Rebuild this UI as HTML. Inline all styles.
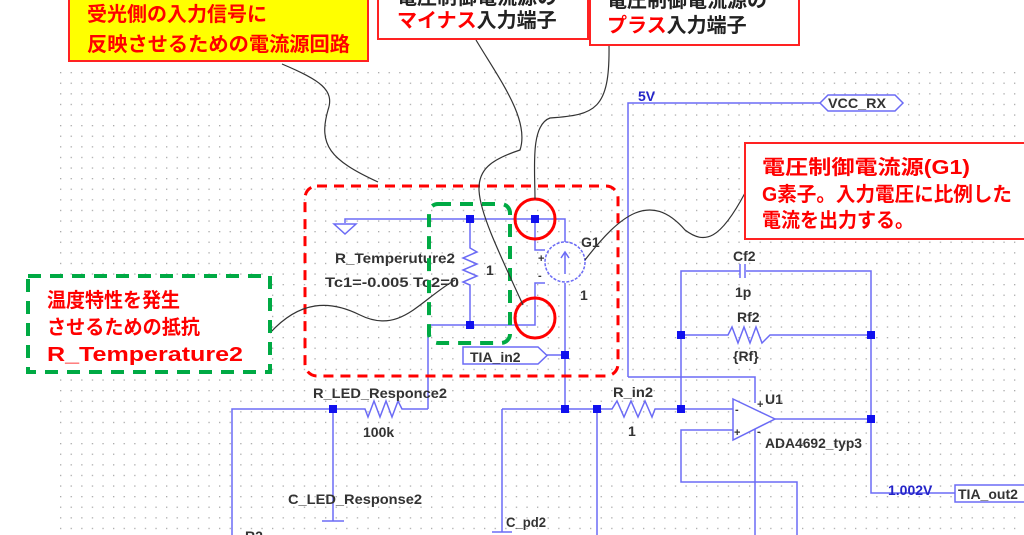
<!DOCTYPE html>
<html><head><meta charset="utf-8"><style>
html,body{margin:0;padding:0;background:#fff;}
svg{display:block;}
.l{font-family:"Liberation Sans",sans-serif;font-weight:bold;font-size:14px;fill:#333;}
.j{font-family:"Liberation Sans","Noto Sans CJK JP",sans-serif;font-weight:bold;font-size:20px;}
</style></head><body>
<svg width="1024" height="535" viewBox="0 0 1024 535" xmlns="http://www.w3.org/2000/svg">
<defs>
<pattern id="g" x="60" y="72" width="10.6" height="10.6" patternUnits="userSpaceOnUse">
<rect x="0" y="0" width="1.3" height="1.3" fill="#aaa"/>
</pattern>
</defs>
<rect x="58" y="70" width="966" height="465" fill="url(#g)"/>

<g stroke="#6b6bf5" stroke-width="1.5" fill="none">
<polyline points="345,223 345,219 565,219 565,242"/>
<polygon points="334,224 356,224 345,234" fill="#fff"/>
<polyline points="470,219 470,248 477,252 463,258 477,264 463,270 477,276 463,282 470,285 470,325"/>
<polyline points="428,409 428,325 535,325 535,283 545,283"/>
<polyline points="535,219 535,250 545,250"/>
<circle cx="565" cy="262" r="20" stroke-dasharray="3,1.5"/>
<line x1="565" y1="274" x2="565" y2="252"/>
<polyline points="561,258 565,252 569,258"/>
<polyline points="565,283 565,409"/>
<polygon points="463,347 538,347 547,355.5 538,364 463,364" fill="#fff"/>
<line x1="547" y1="355" x2="565" y2="355"/>
<polyline points="428,409 402,409 398,401 392,417 386,401 380,417 374,401 368,417 365,409 232,409 232,535"/>
<line x1="333" y1="409" x2="333" y2="521"/>
<line x1="322" y1="521" x2="344" y2="521"/>
<line x1="502" y1="409" x2="502" y2="532"/>
<line x1="492" y1="532" x2="512" y2="532"/>
<polyline points="502,409 612,409 617,401 624,417 631,401 638,417 645,401 652,417 655,409 733,409"/>
<line x1="597" y1="409" x2="597" y2="535"/>
<polyline points="628,377 628,103 820,103"/>
<polyline points="628,377 755,377 755,403"/>
<polygon points="820,103 828,95 895,95 903,103 895,111 828,111" fill="#fff"/>
<polyline points="681,409 681,271 740,271"/>
<polyline points="746,271 871,271 871,493 955,493"/>
<line x1="740" y1="264" x2="740" y2="278"/>
<line x1="745" y1="264" x2="745" y2="278"/>
<polyline points="681,335 728,335 732,327 738,343 744,327 750,343 756,327 762,343 770,335 871,335"/>
<polygon points="733,399 775,419 733,440" fill="#fff"/>
<line x1="775" y1="419" x2="871" y2="419"/>
<polyline points="733,430 681,430 681,482 797,482 797,535"/>
<line x1="755" y1="429" x2="755" y2="535"/>
<rect x="955" y="485" width="80" height="17" fill="#fff"/>
</g>
<g fill="#1010ee">
<rect x="466" y="215" width="8" height="8"/><rect x="531" y="215" width="8" height="8"/>
<rect x="466" y="321" width="8" height="8"/><rect x="561" y="351" width="8" height="8"/>
<rect x="561" y="405" width="8" height="8"/><rect x="593" y="405" width="8" height="8"/>
<rect x="329" y="405" width="8" height="8"/><rect x="677" y="405" width="8" height="8"/>
<rect x="677" y="331" width="8" height="8"/><rect x="867" y="331" width="8" height="8"/>
<rect x="867" y="415" width="8" height="8"/>
</g>
<g class="l" style="font-size:11px">
<text x="538" y="262">+</text><text x="538" y="279">-</text>
<text x="735" y="413">-</text><text x="734" y="436">+</text>
<text x="757" y="408">+</text><text x="757" y="435">-</text>
</g>
<g class="l">
<text x="335" y="263" textLength="120" lengthAdjust="spacingAndGlyphs">R_Temperuture2</text>
<text x="325" y="287" textLength="134" lengthAdjust="spacingAndGlyphs">Tc1=-0.005 Tc2=0</text>
<text x="486" y="275">1</text>
<text x="581" y="247">G1</text>
<text x="580" y="300">1</text>
<text x="470" y="362">TIA_in2</text>
<text x="313" y="398" textLength="134" lengthAdjust="spacingAndGlyphs">R_LED_Responce2</text>
<text x="363" y="437">100k</text>
<text x="288" y="504" textLength="134" lengthAdjust="spacingAndGlyphs">C_LED_Response2</text>
<text x="245" y="541">R2</text>
<text x="506" y="527" textLength="40" lengthAdjust="spacingAndGlyphs">C_pd2</text>
<text x="613" y="397" textLength="40" lengthAdjust="spacingAndGlyphs">R_in2</text>
<text x="628" y="436">1</text>
<text x="733" y="261">Cf2</text>
<text x="735" y="297">1p</text>
<text x="737" y="322">Rf2</text>
<text x="733" y="361">{Rf}</text>
<text x="765" y="404">U1</text>
<text x="765" y="448" textLength="97" lengthAdjust="spacingAndGlyphs">ADA4692_typ3</text>
<text x="828" y="108" textLength="58" lengthAdjust="spacingAndGlyphs">VCC_RX</text>
<text x="958" y="499">TIA_out2</text>
<text x="888" y="495" style="fill:#2424c8">1.002V</text>
<text x="638" y="101" style="fill:#2424c8">5V</text>
</g>

<rect x="305" y="186" width="313" height="190" rx="12" fill="none" stroke="#f00" stroke-width="3" stroke-dasharray="10,7"/>
<rect x="429" y="204" width="81" height="139" rx="9" fill="none" stroke="#0a4" stroke-width="4" stroke-dasharray="13,9"/>
<circle cx="535" cy="219" r="20" fill="none" stroke="#f00" stroke-width="3"/>
<circle cx="535" cy="318" r="20" fill="none" stroke="#f00" stroke-width="3"/>

<g stroke="#333" stroke-width="1.2" fill="none">
<path d="M282,64 C320,80 335,90 328,110 C318,145 330,160 378,182"/>
<path d="M476,40 C500,80 530,120 520,150 C460,170 470,190 523,305"/>
<path d="M609,45 C610,110 595,115 550,118 C530,125 535,170 535,199"/>
<path d="M745,193 C720,240 705,245 685,230 C650,190 620,215 585,260"/>
<path d="M270,333 C300,300 330,300 360,315 C400,335 420,300 455,280"/>
</g>

<rect x="69" y="-5" width="299" height="66" fill="#ff0" stroke="#f22" stroke-width="2"/>
<text class="j" x="87" y="21" fill="#f00" textLength="180" lengthAdjust="spacingAndGlyphs">受光側の入力信号に</text>
<text class="j" x="87" y="51" fill="#f00" textLength="263" lengthAdjust="spacingAndGlyphs">反映させるための電流源回路</text>
<rect x="378" y="-5" width="210" height="44" fill="#fff" stroke="#f22" stroke-width="2"/>
<text class="j" x="397" y="4" fill="#222">電圧制御電流源の</text>
<text class="j" x="397" y="27"><tspan fill="#f00">マイナス</tspan><tspan fill="#222">入力端子</tspan></text>
<rect x="590" y="-5" width="209" height="50" fill="#fff" stroke="#f22" stroke-width="2"/>
<text class="j" x="607" y="7" fill="#222">電圧制御電流源の</text>
<text class="j" x="607" y="32"><tspan fill="#f00">プラス</tspan><tspan fill="#222">入力端子</tspan></text>
<rect x="745" y="143" width="290" height="96" fill="#fff" stroke="#f22" stroke-width="2"/>
<text class="j" x="762" y="174" fill="#f00" textLength="208" lengthAdjust="spacingAndGlyphs">電圧制御電流源(G1)</text>
<text class="j" x="762" y="201" fill="#f00" textLength="250" lengthAdjust="spacingAndGlyphs">G素子。入力電圧に比例した</text>
<text class="j" x="762" y="227" fill="#f00" textLength="152" lengthAdjust="spacingAndGlyphs">電流を出力する。</text>
<rect x="28" y="276" width="242" height="96" fill="#fff" stroke="#0a4" stroke-width="4" stroke-dasharray="13,9"/>
<text class="j" x="47" y="307" fill="#f00" textLength="133" lengthAdjust="spacingAndGlyphs">温度特性を発生</text>
<text class="j" x="47" y="334" fill="#f00" textLength="153" lengthAdjust="spacingAndGlyphs">させるための抵抗</text>
<text class="j" x="47" y="361" fill="#f00" textLength="196" lengthAdjust="spacingAndGlyphs">R_Temperature2</text>
</svg>
</body></html>
